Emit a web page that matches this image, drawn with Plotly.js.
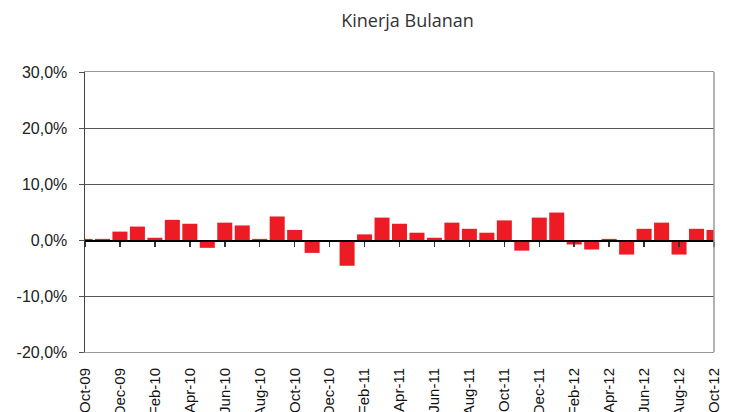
<!DOCTYPE html>
<html>
<head>
<meta charset="utf-8">
<script src="https://cdn.plot.ly/plotly-3.0.1.min.js"></script>
<style>html,body{margin:0;padding:0;background:#fff;}#chart{width:733px;height:412px;}</style>
</head>
<body>
<div id="chart"></div>
<script>
const months = ["Oct-09","Nov-09","Dec-09","Jan-10","Feb-10","Mar-10","Apr-10","May-10","Jun-10","Jul-10","Aug-10","Sep-10",
  "Oct-10","Nov-10","Dec-10","Jan-11","Feb-11","Mar-11","Apr-11","May-11","Jun-11","Jul-11","Aug-11","Sep-11",
  "Oct-11","Nov-11","Dec-11","Jan-12","Feb-12","Mar-12","Apr-12","May-12","Jun-12","Jul-12","Aug-12","Sep-12","Oct-12"];
const returns = [0.2,0.2,1.5,2.4,0.4,3.6,2.9,-1.4,3.1,2.6,0.2,4.2,
  1.8,-2.3,-0.3,-4.6,1.0,4.0,2.9,1.3,0.4,3.1,2.0,1.3,
  3.5,-1.9,4.0,4.9,-0.8,-1.7,0.2,-2.6,2.0,3.1,-2.6,2.0,1.8];
const tickLabels = months.filter((m, i) => i % 2 === 0);
const yTicks = [-20, -10, 0, 10, 20, 30];
const yTickText = yTicks.map(v => v.toFixed(1).replace(".", ",") + "%");

const data = [
  {type: "bar", x: months, y: returns, marker: {color: "#ED1C24", line: {width: 0}}, width: 0.86, hoverinfo: "skip"},
  {type: "scatter", mode: "markers", x: months, y: returns, xaxis: "x2", marker: {opacity: 0}, hoverinfo: "skip", showlegend: false}
];

const layout = {
  width: 733, height: 412,
  margin: {l: 85, r: 19, t: 72, b: 60},
  paper_bgcolor: "#fff", plot_bgcolor: "#fff",
  showlegend: false,
  title: {text: "Kinerja Bulanan", x: 0.556, xref: "container", y: 0.95, yref: "container", yanchor: "middle",
    font: {family: "Open Sans", size: 18, color: "#333"}},
  xaxis: {
    type: "category", range: [0, 36],
    tickmode: "array", tickvals: tickLabels, ticktext: tickLabels,
    tickangle: -90, ticks: "", showgrid: false, zeroline: false, ticklabelstandoff: 9,
    showline: true, linecolor: "#999", linewidth: 1, mirror: true,
    tickfont: {family: "Liberation Sans", size: 15, color: "#111"}
  },
  xaxis2: {
    type: "category", overlaying: "x", matches: "x", anchor: "free", position: 0.4,
    tickmode: "array", tickvals: tickLabels, showticklabels: false,
    ticks: "outside", ticklen: 5, tickwidth: 1.5, tickcolor: "#333",
    showline: true, linecolor: "#000", linewidth: 1.5, showgrid: false, zeroline: false
  },
  yaxis: {
    range: [-20, 30], tickmode: "array", tickvals: yTicks, ticktext: yTickText,
    ticks: "outside", ticklen: 5, tickcolor: "#555", ticklabelstandoff: 8,
    showline: true, linecolor: "#444", linewidth: 1.5, mirror: false,
    showgrid: true, gridcolor: "#555", gridwidth: 1, zeroline: false,
    tickfont: {family: "Liberation Sans", size: 16, color: "#222"}
  },
  shapes: [
    {type: "line", xref: "paper", yref: "paper", x0: 1, x1: 1, y0: 0, y1: 1, line: {color: "#999", width: 1.5}}
  ]
};

Plotly.newPlot("chart", data, layout, {staticPlot: true, displayModeBar: false});
</script>
</body>
</html>
